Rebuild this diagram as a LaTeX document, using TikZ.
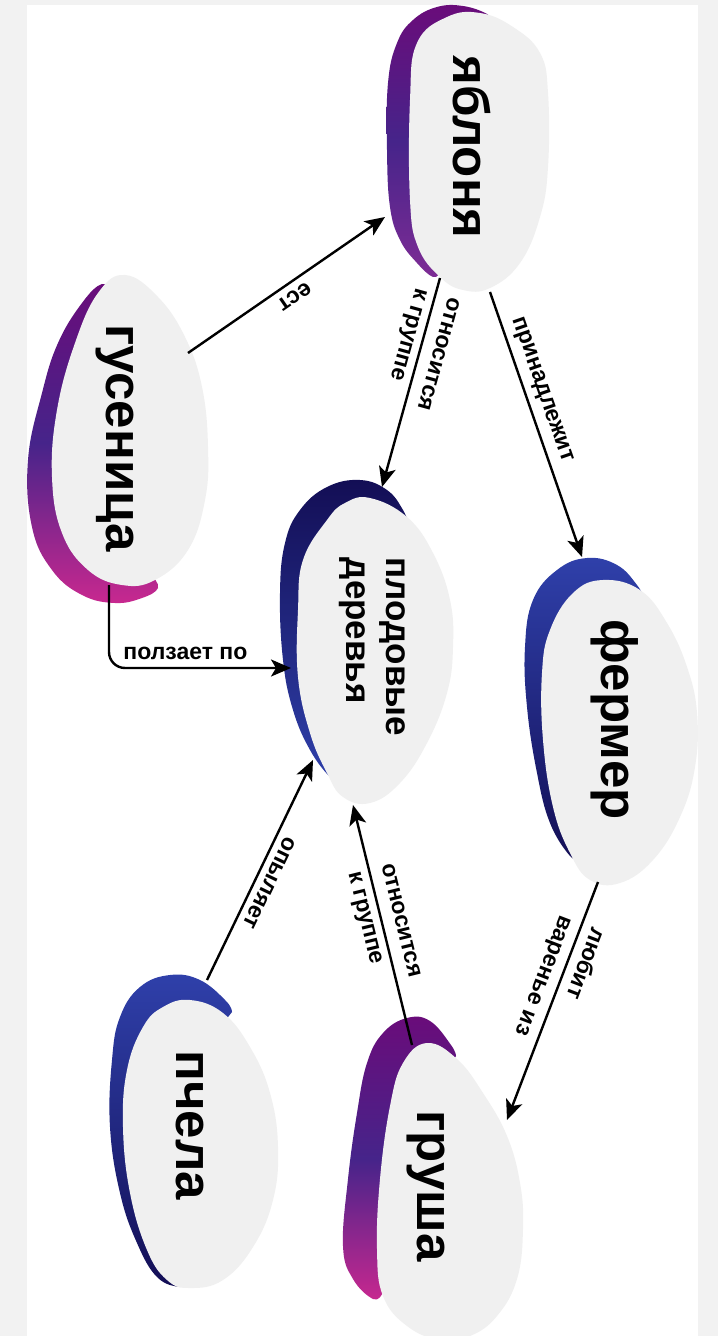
\documentclass[tikz,border=0pt]{standalone}
\usepackage{fontspec}
\setmainfont{Liberation Sans}
\usetikzlibrary{arrows.meta}
\definecolor{framegray}{HTML}{F2F2F2}
\definecolor{blobgray}{HTML}{F0F0F0}
\definecolor{purA}{HTML}{6A0C7A}
\definecolor{purM}{HTML}{46248A}
\definecolor{purB}{HTML}{7E2C95}
\definecolor{magB}{HTML}{C8288F}
\definecolor{navy}{HTML}{130E55}
\definecolor{blueA}{HTML}{2F40AA}
\begin{document}
\begin{tikzpicture}[x=0.5pt,y=-0.5pt,
  >={Stealth[length=10pt,width=8.5pt,inset=2.5pt]},
  conn/.style={line width=1.2pt},
  lbl/.style={font=\bfseries\fontsize{11.5}{17}\selectfont, align=left, sloped, allow upside down},
  lblh/.style={font=\bfseries\fontsize{11.5}{17}\selectfont},
  nodetext/.style={font=\bfseries\fontsize{25.5}{30}\selectfont, rotate=-90, inner sep=0pt},
  blob/.style={fill=blobgray},
]
\useasboundingbox (0,0) rectangle (718,1336);
\fill[framegray] (0,0) rectangle (718,1336);
\fill[white] (27,5) rectangle (698,1336);

% ---------- shadows ----------
% яблоня
\shade[top color=purA, bottom color=purB, middle color=purM]
  plot[smooth, tension=0.7] coordinates {(492,22) (487,14) (463,6) (437,7) (413,20) (397,43) (388,83) (387,150) (390,207) (400,240) (417,263) (433,277) (440,272)}
  -- (470,200) -- (480,80) -- cycle;
% гусеница
\shade[top color=purA, bottom color=magB, middle color=purM]
  plot[smooth, tension=0.7] coordinates {(114,292) (102,284) (82,303) (58,343) (42,393) (28,460) (32,527) (52,570) (82,595) (115,603) (142,598) (158,588) (152,576)}
  -- (150,450) -- (125,320) -- cycle;
% плодовые деревья
\shade[top color=navy, bottom color=blueA]
  plot[smooth, tension=0.7] coordinates {(410,528) (403,510) (387,490) (360,480) (327,487) (300,510) (285,543) (280,593) (283,660) (293,710) (310,750) (330,777) (338,778)}
  -- (380,700) -- (390,560) -- cycle;
% фермер
\shade[top color=blueA, bottom color=navy]
  plot[smooth, tension=0.7] coordinates {(645,600) (637,585) (617,565) (587,558) (557,570) (533,600) (525,647) (527,707) (537,773) (550,823) (570,856) (578,856)}
  -- (620,760) -- (630,640) -- cycle;
% пчела
\shade[top color=blueA, bottom color=navy]
  plot[smooth, tension=0.7] coordinates {(232,1012) (226,1001) (200,980) (170,975) (140,987) (120,1017) (112,1060) (110,1127) (120,1193) (137,1243) (157,1277) (180,1287) (186,1282)}
  -- (220,1150) -- (210,1040) -- cycle;
% груша
\shade[top color=purA, bottom color=magB, middle color=purM]
  plot[smooth, tension=0.7] coordinates {(456,1056) (451,1045) (430,1021) (407,1018) (383,1033) (367,1063) (357,1113) (348,1179) (343,1246) (353,1279) (373,1299) (382,1294)}
  -- (450,1200) -- (440,1080) -- cycle;

% ---------- gray blobs ----------
\path[blob] plot[smooth cycle, tension=0.7] coordinates {(447,17) (480,13) (513,27) (540,53) (548,93) (548,167) (540,217) (520,263) (490,288) (463,290) (440,277) (418,247) (410,200) (410,100) (417,43)};
\path[blob] plot[smooth cycle, tension=0.7] coordinates {(125,275) (158,297) (185,337) (202,387) (208,447) (205,500) (188,550) (155,580) (122,585) (88,570) (62,533) (52,477) (57,410) (75,343) (98,293)};
\path[blob] plot[smooth cycle, tension=0.7] coordinates {(370,498) (407,517) (433,553) (450,600) (453,647) (447,693) (427,743) (400,783) (370,803) (343,797) (327,773) (310,733) (298,677) (298,610) (303,560) (327,520) (345,503)};
\path[blob] plot[smooth cycle, tension=0.7] coordinates {(603,580) (640,590) (667,623) (687,667) (697,713) (695,767) (680,817) (653,860) (620,883) (590,880) (570,853) (553,807) (543,740) (542,673) (550,630) (573,593)};
\path[blob] plot[smooth cycle, tension=0.7] coordinates {(190,1000) (223,1013) (250,1047) (270,1093) (278,1147) (273,1200) (253,1247) (223,1280) (190,1288) (167,1280) (147,1250) (130,1193) (123,1127) (127,1070) (143,1027) (163,1007)};
\path[blob] plot[smooth cycle, tension=0.7] coordinates {(427,1043) (457,1059) (483,1093) (507,1136) (520,1183) (523,1229) (517,1279) (497,1316) (470,1336) (440,1340) (407,1326) (383,1296) (377,1249) (380,1179) (390,1106) (403,1063)};

% ---------- node texts ----------
\node[nodetext] (yab) at (472,147) {яблоня};
\node[nodetext] (gus) at (115,438) {гусеница};
\node[nodetext, font=\bfseries\fontsize{17.5}{20}\selectfont, align=left] (pl) at (372,647) {плодовые\\деревья};
\node[nodetext] (fer) at (615,720) {фермер};
\node[nodetext] (pch) at (190,1125) {пчела};
\node[nodetext] (gru) at (426,1186) {груша};

% ---------- connector ends ----------
\coordinate (gusE) at (188,353);
\coordinate (yabW) at (385,217);
\coordinate (yabS1) at (440,278);
\coordinate (plN) at (382,487);
\coordinate (yabS2) at (490,292);
\coordinate (ferN) at (582,557);
\coordinate (gusS) at (109,585);
\coordinate (plW) at (291,668);
\coordinate (pchN) at (207,980);
\coordinate (plS1) at (313,760);
\coordinate (gruN) at (412,1045);
\coordinate (plS2) at (353,805);
\coordinate (ferS) at (598,882);
\coordinate (gruE) at (507,1120);

% ---------- connectors ----------
\draw[conn,<-] (yabW) -- node[lbl, above, pos=0.5] {ест} (gusE);
\draw[conn,->] (yabS1) -- node[lbl, pos=0.34] {относится\\к группе} (plN);
\draw[conn,->] (yabS2) -- node[lbl, above, pos=0.39] {принадлежит} (ferN);
\draw[conn,->,rounded corners=8pt] (gusS) |- node[lblh, pos=0.71, above] {ползает по} (plW);
\draw[conn,<-] (plS1) -- node[lbl, above, pos=0.53] {опыляет} (pchN);
\draw[conn,<-] (plS2) -- node[lbl, pos=0.50] {относится\\к группе} (gruN);
\draw[conn,->] (ferS) -- node[lbl, pos=0.42] {любит\\варенье из} (gruE);
\end{tikzpicture}
\end{document}
